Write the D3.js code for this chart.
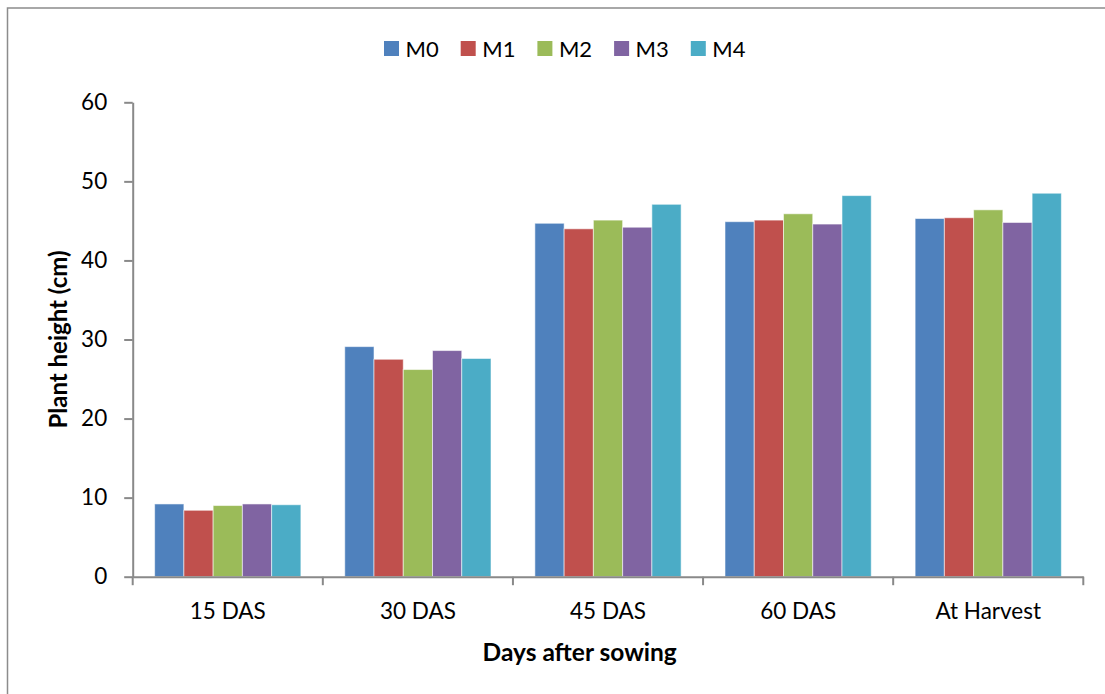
<!DOCTYPE html>
<html>
<head>
<meta charset="utf-8">
<script src="https://cdn.jsdelivr.net/npm/d3@7/dist/d3.min.js"></script>
<style>
  html, body { margin: 0; padding: 0; background: #fff; }
  svg { display: block; font-family: Lato, "Liberation Sans", sans-serif; }
</style>
</head>
<body>
<svg id="chart" width="1105" height="694"></svg>
<script>
// Plant height by treatment at each growth stage
const categories = ["15 DAS", "30 DAS", "45 DAS", "60 DAS", "At Harvest"];
const seriesNames = ["M0", "M1", "M2", "M3", "M4"];
const M0 = [9.2, 29.1, 44.7, 44.9, 45.3];
const M1 = [8.4, 27.5, 44.0, 45.1, 45.4];
const M2 = [9.0, 26.2, 45.1, 45.9, 46.4];
const M3 = [9.2, 28.6, 44.2, 44.6, 44.8];
const M4 = [9.1, 27.6, 47.1, 48.2, 48.5];
const yTicks = [0, 10, 20, 30, 40, 50, 60];
const colors = ["#4F81BD", "#C0504D", "#9BBB59", "#8064A2", "#4BACC6"];

const seriesValues = [M0, M1, M2, M3, M4];

const svg = d3.select("#chart");
const W = 1105, H = 694;
const plot = { left: 132.7, right: 1083.3, top: 102.3, bottom: 576.7 };
const axisColor = "#898989";

// outer frame
svg.append("rect")
  .attr("x", 7.5).attr("y", 8)
  .attr("width", W + 10).attr("height", H + 10)
  .attr("fill", "none").attr("stroke", "#8c8c8c").attr("stroke-width", 1.5);

const x0 = d3.scaleBand().domain(categories).range([plot.left, plot.right]).padding(0);
const barW = x0.bandwidth() / 6.5;
const x1 = d3.scaleBand().domain(seriesNames)
  .range([barW * 0.75, x0.bandwidth() - barW * 0.75]).padding(0);
const y = d3.scaleLinear().domain([0, 60]).range([plot.bottom, plot.top]);

// bars
const groups = svg.append("g").selectAll("g")
  .data(categories)
  .join("g")
  .attr("transform", d => `translate(${x0(d)},0)`);

groups.selectAll("rect")
  .data((c, ci) => seriesNames.map((s, si) => ({ s, si, v: seriesValues[si][ci] })))
  .join("rect")
  .attr("x", d => x1(d.s))
  .attr("width", x1.bandwidth())
  .attr("y", d => y(d.v))
  .attr("height", d => y(0) - y(d.v))
  .attr("fill", d => colors[d.si])
  .attr("stroke", "rgba(255,255,255,0.55)")
  .attr("stroke-width", 1);

// y axis
const yAxis = svg.append("g")
  .attr("transform", `translate(${plot.left},0)`)
  .call(d3.axisLeft(y).tickValues(yTicks).tickSize(8.5).tickPadding(17).tickSizeOuter(0));
yAxis.select(".domain").attr("stroke", axisColor).attr("stroke-width", 2);
yAxis.selectAll(".tick line").attr("stroke", axisColor).attr("stroke-width", 2);
yAxis.selectAll(".tick text")
  .attr("fill", "#000").style("font-size", "22.5px").style("font-family", "Lato, sans-serif");

// x axis with ticks on category boundaries
const xAxis = svg.append("g")
  .attr("transform", `translate(0,${plot.bottom})`)
  .call(d3.axisBottom(x0).tickSize(0).tickPadding(26).tickSizeOuter(0));
xAxis.select(".domain").attr("stroke", axisColor).attr("stroke-width", 2);
xAxis.selectAll(".tick text")
  .attr("fill", "#000").style("font-size", "22.5px").style("font-family", "Lato, sans-serif");
const bounds = categories.map(c => x0(c)).concat([x0(categories[categories.length - 1]) + x0.bandwidth()]);
xAxis.selectAll("line.bound")
  .data(bounds)
  .join("line")
  .attr("class", "bound")
  .attr("x1", d => d).attr("x2", d => d)
  .attr("y1", 0).attr("y2", 8.5)
  .attr("stroke", axisColor).attr("stroke-width", 2);

// axis titles
svg.append("text")
  .attr("transform", `translate(67,${(plot.top + plot.bottom) / 2}) rotate(-90)`)
  .attr("text-anchor", "middle")
  .style("font-size", "24px").style("font-weight", "bold")
  .text("Plant height (cm)");

svg.append("text")
  .attr("x", 579.7).attr("y", 660.5)
  .attr("text-anchor", "middle")
  .style("font-size", "24.5px").style("font-weight", "bold")
  .text("Days after sowing");

// legend
const legend = svg.append("g").selectAll("g")
  .data(seriesNames)
  .join("g")
  .attr("transform", (d, i) => `translate(${384 + i * 76.7},41)`);
legend.append("rect")
  .attr("width", 15).attr("height", 15)
  .attr("fill", (d, i) => colors[i]);
legend.append("text")
  .attr("x", 21.5).attr("y", 15.5)
  .style("font-size", "22px")
  .text(d => d);
</script>
</body>
</html>
